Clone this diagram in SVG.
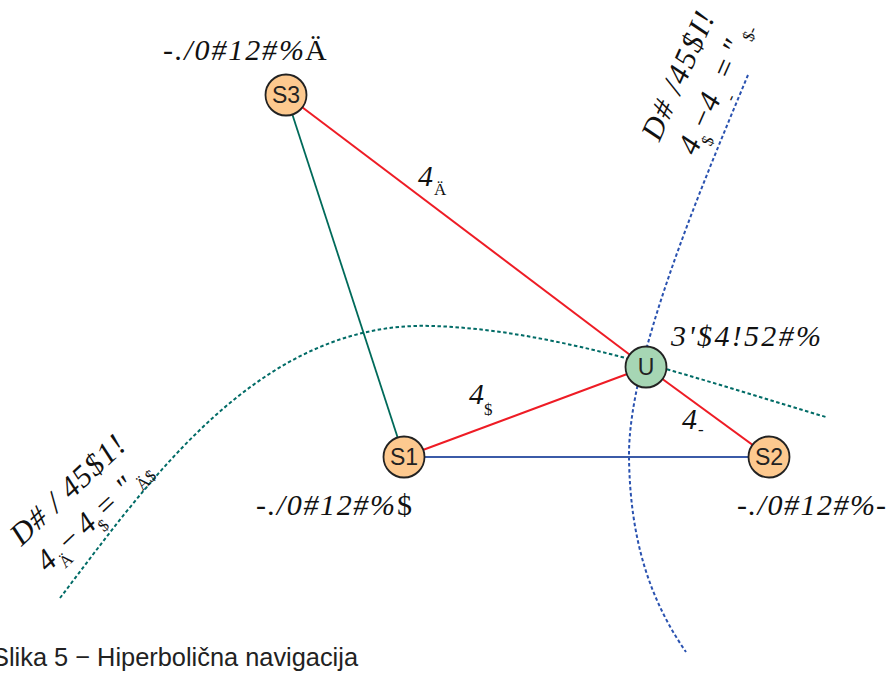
<svg xmlns="http://www.w3.org/2000/svg" width="889" height="680" viewBox="0 0 889 680">
<style>
.lbl{font-family:"Liberation Serif","Times New Roman",serif;font-style:italic;font-size:30px;fill:#111}
.up{font-style:normal}
.sub{font-family:"Liberation Serif","Times New Roman",serif;font-style:normal;font-size:17px;fill:#111}
.rot{font-family:"Liberation Serif","Times New Roman",serif;font-style:italic;font-size:31px;fill:#111}
.node circle{stroke:#222;stroke-width:1.8}
.node text{font-family:"Liberation Sans",Arial,sans-serif;font-size:23px;fill:#222;text-anchor:middle}
.orange{fill:#fdc98f}
.green{fill:#a6d6b4}
.cap{font-family:"Liberation Sans",Arial,sans-serif;font-size:26px;fill:#222}
</style>
<rect width="889" height="680" fill="#fff"/>
<g id="connectors" fill="none">
<path d="M748,75 C700,190 628,360 629,457 C630,540 650,600 686,652" stroke="#2a52b0" stroke-width="2" stroke-dasharray="3.5 2.5"/>
<path d="M60,598 C150,480 260,320 433,326 C560,330 700,380 826,417" stroke="#006b66" stroke-width="2" stroke-dasharray="3.5 2.5"/>
<line x1="286" y1="95" x2="646" y2="367" stroke="#ee1c25" stroke-width="2"/>
<line x1="286" y1="95" x2="404" y2="457" stroke="#006a5a" stroke-width="1.8"/>
<line x1="404" y1="457" x2="646" y2="367" stroke="#ee1c25" stroke-width="2"/>
<line x1="646" y1="367" x2="769" y2="457" stroke="#ee1c25" stroke-width="2"/>
<line x1="404" y1="457" x2="769" y2="457" stroke="#3b5ba8" stroke-width="2.2"/>
</g>
<g id="S3" class="node"><circle class="orange" cx="286" cy="95" r="20.5"/><text x="286" y="103">S3</text></g>
<g id="S1" class="node"><circle class="orange" cx="404" cy="457" r="20.5"/><text x="404" y="465">S1</text></g>
<g id="S2" class="node"><circle class="orange" cx="769" cy="457" r="20.5"/><text x="769" y="465">S2</text></g>
<g id="U" class="node"><circle class="green" cx="646" cy="367" r="20.5"/><text x="646" y="375">U</text></g>
<g id="labels">
<text class="lbl" x="163" y="60" textLength="141" lengthAdjust="spacing">-./0#12#%</text>
<text class="lbl up" x="305" y="60">Ä</text>
<text class="lbl" x="256" y="515" textLength="139" lengthAdjust="spacing">-./0#12#%</text>
<text class="lbl up" x="397" y="515">$</text>
<text class="lbl" x="737" y="515" textLength="138" lengthAdjust="spacing">-./0#12#%</text>
<text class="lbl up" x="876" y="515">-</text>
<text class="lbl" x="671" y="346" textLength="150" lengthAdjust="spacing">3'$4!52#%</text>
<text class="lbl" x="418" y="186">4</text><text class="sub" x="434" y="195">Ä</text>
<text class="lbl" x="469" y="404">4</text><text class="sub" x="484" y="415">$</text>
<text class="lbl" x="682" y="429">4</text><text class="sub" x="698" y="435">-</text>
<g transform="translate(655,145) rotate(-66)">
<text class="rot" x="4" y="3" textLength="137" lengthAdjust="spacing">D# /45$I!</text>
<text class="rot" x="6" y="42">4</text><text class="sub" x="21" y="52">$</text>
<text class="rot up" x="33" y="42">−</text>
<text class="rot" x="54" y="42">4</text><text class="sub" x="71" y="55">-</text>
<text class="rot up" x="88" y="42">=</text>
<text class="rot" x="114" y="42">"</text>
<text class="sub" x="133" y="47">$-</text>
</g>
<g transform="translate(20,548) rotate(-43)">
<text class="rot" x="2" y="0" textLength="145" lengthAdjust="spacing">D# / 45$1!</text>
<text class="rot" x="3" y="37">4</text><text class="sub" x="19" y="46">Ä</text>
<text class="rot up" x="31" y="37">−</text>
<text class="rot" x="57" y="37">4</text><text class="sub" x="72" y="46">$</text>
<text class="rot up" x="82" y="37">=</text>
<text class="rot" x="112" y="37">"</text>
<text class="sub" x="128" y="42">Ä$</text>
</g>
<text class="cap" x="-8" y="666" textLength="366" lengthAdjust="spacingAndGlyphs">Slika 5 − Hiperbolična navigacija</text>
</g>
</svg>
